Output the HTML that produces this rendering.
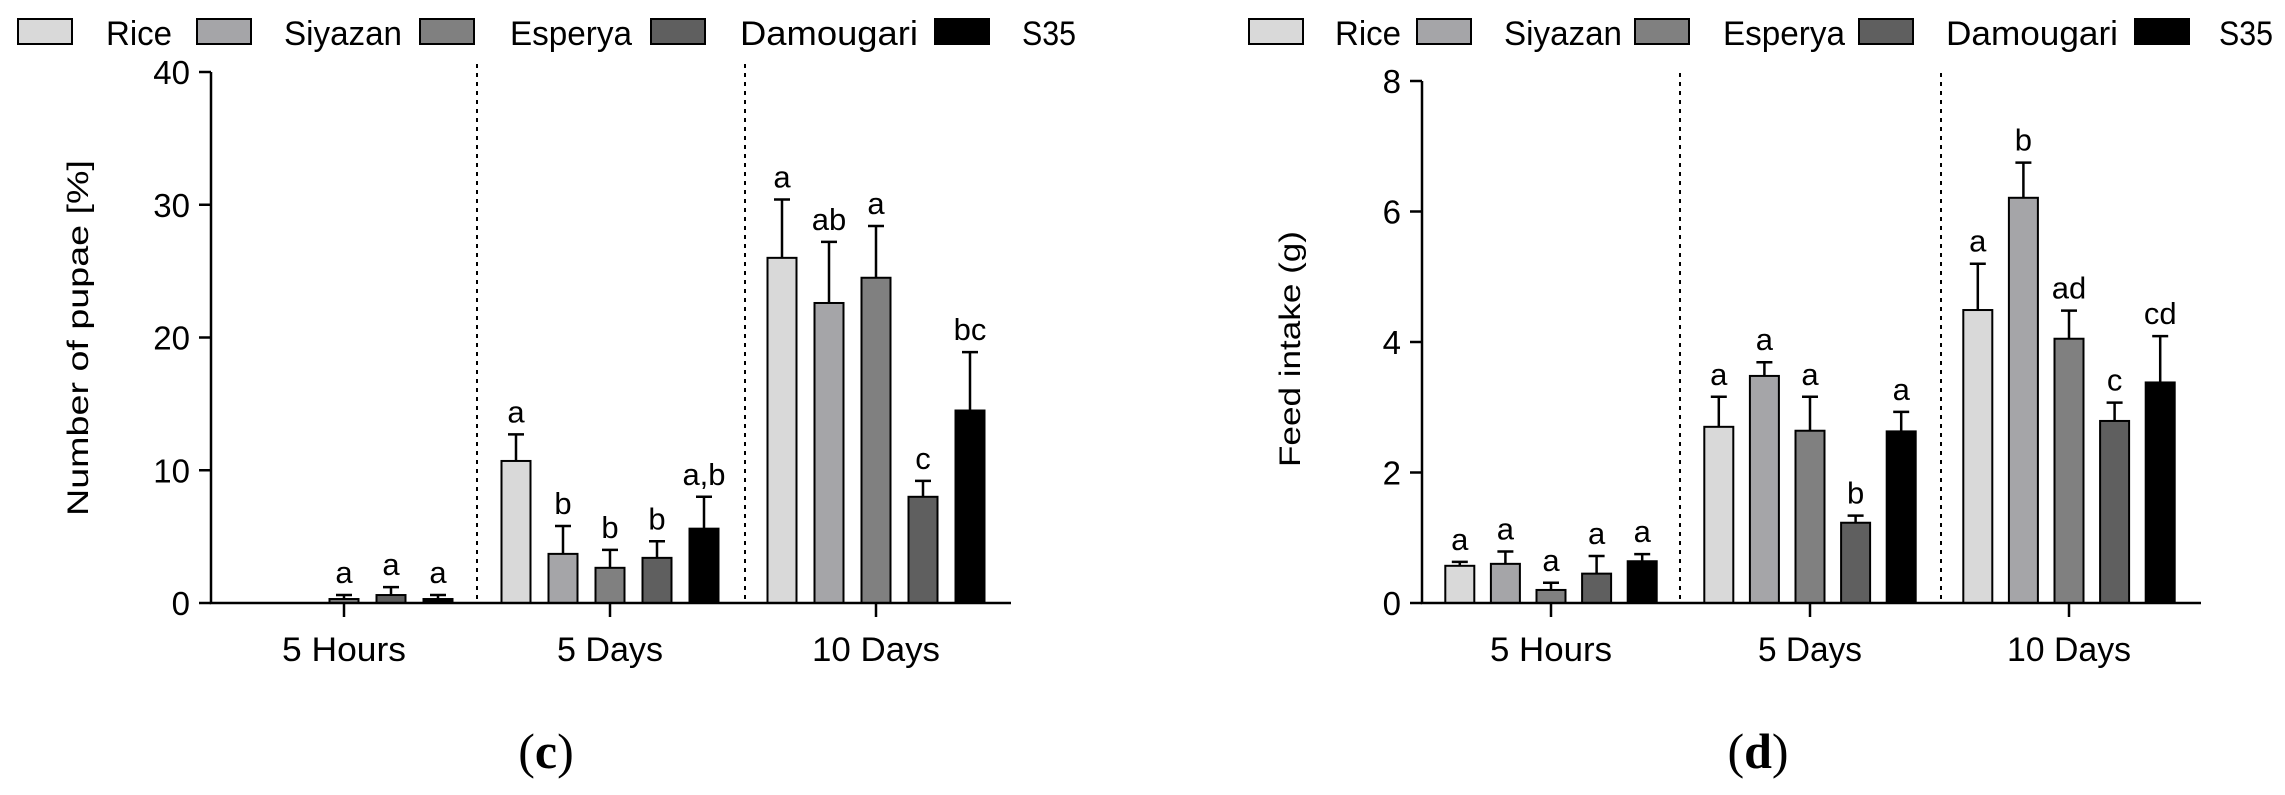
<!DOCTYPE html>
<html><head><meta charset="utf-8"><style>
html,body{margin:0;padding:0;background:#fff;}
svg{display:block;}
text{font-family:"Liberation Sans",sans-serif;fill:#000;}
</style></head><body>
<svg id="fig" width="2285" height="795" viewBox="0 0 2285 795" xmlns="http://www.w3.org/2000/svg"></svg>
<script>
const seriesNames = ["Rice","Siyazan","Esperya","Damougari","S35"];
const categories = ["5 Hours","5 Days","10 Days"];
// panel c: number of pupae [%]; rows = series, cols = categories
const pupaeMeans = [[0,10.7,26.0],[0,3.7,22.6],[0.3,2.65,24.5],[0.6,3.4,8.0],[0.3,5.6,14.5]];
const pupaeErrTop = [[0,12.7,30.4],[0,5.8,27.2],[0.6,4.0,28.4],[1.2,4.65,9.2],[0.6,8.0,18.9]];
const pupaeLetters = [["","a","a"],["","b","ab"],["a","b","a"],["a","b","c"],["a","a,b","bc"]];
const pupaeTicks = [0,10,20,30,40];
// panel d: feed intake (g)
const feedMeans = [[0.57,2.7,4.49],[0.6,3.48,6.21],[0.2,2.64,4.05],[0.45,1.23,2.79],[0.64,2.63,3.38]];
const feedErrTop = [[0.63,3.16,5.2],[0.79,3.69,6.75],[0.31,3.16,4.48],[0.72,1.34,3.07],[0.75,2.93,4.09]];
const feedLetters = [["a","a","a"],["a","a","b"],["a","a","ad"],["a","b","c"],["a","a","cd"]];
const feedTicks = [0,2,4,6,8];

const colors = ["#d9d9d9","#a5a5a8","#808080","#5f5f5f","#000000"];
const NS="http://www.w3.org/2000/svg";
const svg=document.getElementById('fig');
function mk(tag,attrs,parent,txt){const e=document.createElementNS(NS,tag);for(const k in attrs)e.setAttribute(k,attrs[k]);if(txt!==undefined)e.textContent=txt;(parent||svg).appendChild(e);return e;}

function panel(o){
  const g=mk('g',{});
  
  
  const y=v=>o.y0-(v/o.ymax)*(o.y0-o.yTop);
  const cx=i=>o.c0+i*o.cStep;
  o.legend.forEach((L,i)=>{
    const r=mk('rect',{x:L[0],y:19,width:54,height:25,fill:colors[i],stroke:'#000','stroke-width':2},g);
    
    
    const t=mk('text',{x:L[1],y:45,'font-size':34,textLength:L[2],lengthAdjust:'spacingAndGlyphs'},g,seriesNames[i]);
    
    
  });
  o.seps.forEach(sx=>{const l=mk('line',{x1:sx,y1:o.yTop-8,x2:sx,y2:o.y0,stroke:'#000','stroke-width':2,'stroke-dasharray':'4,5'},g);
    });
  for(let s=0;s<5;s++)for(let c=0;c<3;c++){
    const m=o.means[s][c];
    const bx=cx(c)+(s-2)*o.pitch;
    if(m>0){
      const b=mk('rect',{x:bx-o.bw/2,y:y(m),width:o.bw,height:o.y0-y(m),fill:colors[s],stroke:'#000','stroke-width':2},g);
      
      
      const et=o.err[s][c];
      const e=mk('path',{d:`M${bx} ${y(m)}V${y(et)}M${bx-8} ${y(et)}H${bx+8}`,stroke:'#000','stroke-width':2.5,fill:'none'},g);
      
      
    }
    if(o.letters[s][c]){
      const t=mk('text',{x:bx,y:y(o.err[s][c])-12,'font-size':31,'text-anchor':'middle'},g,o.letters[s][c]);
      
      
    }
  }
  const ax=mk('path',{d:`M${o.ax} ${o.yTop}V${o.y0}H${o.axEnd}`,stroke:'#000','stroke-width':2.5,fill:'none'},g);
  
  o.ticks.forEach(v=>{
    mk('line',{x1:o.ax-12,y1:y(v),x2:o.ax,y2:y(v),stroke:'#000','stroke-width':2.5},g);
    const t=mk('text',{x:o.ax-21,y:y(v)+12,'font-size':33,'text-anchor':'end'},g,String(v));
    
  });
  categories.forEach((cat,i)=>{
    mk('line',{x1:cx(i),y1:o.y0,x2:cx(i),y2:o.y0+14,stroke:'#000','stroke-width':2.5},g);
    const t=mk('text',{x:cx(i),y:661,'font-size':34,'text-anchor':'middle',textLength:o.catLen[i],lengthAdjust:'spacingAndGlyphs'},g,cat);
    
  });
  const yt=mk('text',{x:0,y:0,'font-size':30,'text-anchor':'middle',textLength:o.titleLen,lengthAdjust:'spacingAndGlyphs',transform:`translate(${o.titleX},${o.titleY}) rotate(-90)`},g,o.title);
  
  const cap=mk('text',{x:o.capX,y:768,'font-size':50,'text-anchor':'middle'},g);
  
  cap.innerHTML='(<tspan font-weight="bold">'+o.cap+'</tspan>)';
  cap.style.fontFamily='"Liberation Serif",serif';
}

panel({name:'chart-c',means:pupaeMeans,err:pupaeErrTop,letters:pupaeLetters,ticks:pupaeTicks,ymax:40,
  y0:603,yTop:72,ax:211,axEnd:1011,c0:344,cStep:266,pitch:47,bw:29,seps:[477,745],
  legend:[[18,106,66],[197,284,118],[420,510,122],[651,740,178],[935,1022,54]],
  catLen:[124,106,128],
  title:'Number of pupae  [%]',titleX:88,titleY:338,titleLen:356,capX:546,cap:'c'});
panel({name:'chart-d',means:feedMeans,err:feedErrTop,letters:feedLetters,ticks:feedTicks,ymax:8,
  y0:603,yTop:81,ax:1422,axEnd:2201,c0:1551,cStep:259,pitch:45.6,bw:29,seps:[1680,1941],
  legend:[[1249,1335,66],[1417,1504,118],[1635,1723,122],[1859,1946,172],[2135,2219,54]],
  catLen:[122,104,124],
  title:'Feed intake (g)',titleX:1300,titleY:349,titleLen:236,capX:1758,cap:'d'});
</script>
</body></html>
